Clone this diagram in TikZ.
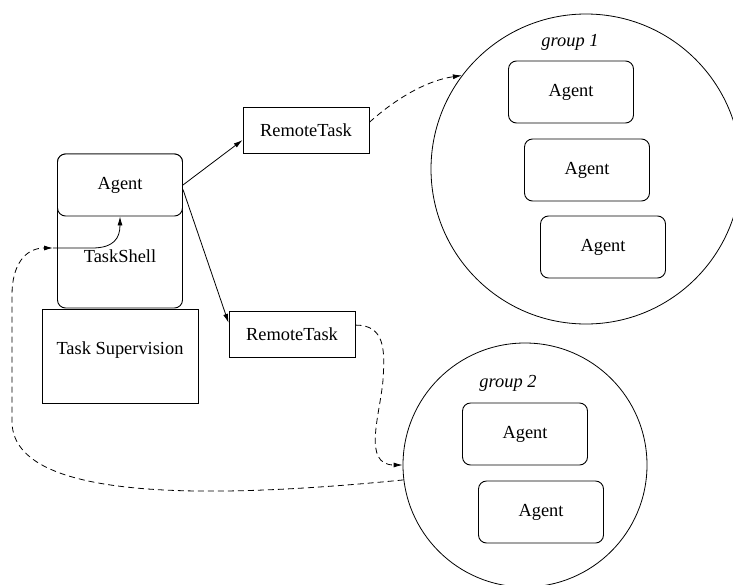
\documentclass[tikz,border=0pt]{standalone}
\usepackage{fontspec}
\setmainfont{Liberation Serif}
\usetikzlibrary{arrows.meta}

\tikzset{
	>={Latex[length=9pt,width=5pt]},
	box/.style={draw, line width=0.9pt, minimum width=126, minimum height=46, inner sep=0pt},
	agentbox/.style={box, rounded corners=8pt, minimum width=125, minimum height=62, fill=white},
	group/.style={draw, circle, line width=0.8pt, inner sep=0pt},
	flow/.style={->, line width=0.8pt, dash pattern=on 6pt off 4pt}
}

\begin{document}
\begin{tikzpicture}[x=1pt, y=-1pt, font=\fontsize{18.4}{22}\selectfont]
		\useasboundingbox (0,0) rectangle (733,584);
		% local side: shell, agent, supervision
		\node[agentbox, minimum height=154] (shell) at (120,231) {};
		\node[agentbox] (agent) at (120,185) {Agent};
		\node (shelltxt) at (120,256) {TaskShell};
		\node[box, minimum width=156, minimum height=94] (sup) at (120,356) {};
		\node (suptxt) at (120,350) {Task Supervision};
		% remote tasks
		\node[box] (rt1) at (306,130) {RemoteTask};
		\node[box] (rt2) at (292,334) {RemoteTask};
		% groups
		\node[group, minimum size=310] (g1) at (586,169) {};
		\node (g1txt) at (570,42) {\itshape group 1};
		\node[agentbox] (a11) at (571,92) {Agent};
		\node[agentbox] (a12) at (587,170) {Agent};
		\node[agentbox] (a13) at (603,247) {Agent};
		\node[group, minimum size=244] (g2) at (525,465) {};
		\node (g2txt) at (508,383) {\itshape group 2};
		\node[agentbox] (a21) at (525,434) {Agent};
		\node[agentbox] (a22) at (541,512) {Agent};
		% connections
		\draw[->, line width=0.8pt] (agent.east) -- (rt1.189);
		\draw[->, line width=0.8pt] (agent.-4) -- (rt2.170);
		\draw[flow] (rt1.7) .. controls (400,95) and (430,80) .. (g1.143);
		\draw[flow] (rt2.8) .. controls (385,325) and (385,350) .. (383,380)
			.. controls (380,415) and (362,465) .. (g2.west);
		\coordinate (back) at (53,248);
		\draw[flow] (g2.187) .. controls (200,500) and (10,500) .. (12,420)
			-- (12,295) .. controls (12,265) and (25,248) .. (back);
		\draw[->, line width=0.8pt] (back) -- (92,248) .. controls (114,248) and (120,238) .. (agent.south);
	\end{tikzpicture}
\end{document}
